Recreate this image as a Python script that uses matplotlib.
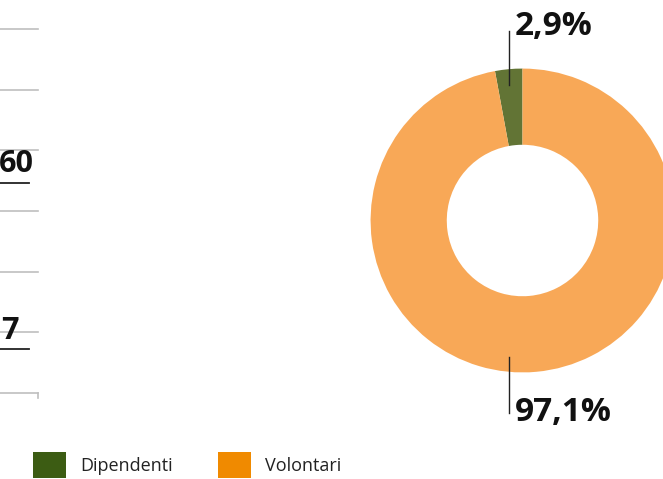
import matplotlib
matplotlib.use("Agg")
import matplotlib.pyplot as plt
from matplotlib.patches import Patch

# donut data
categories = ["Dipendenti", "Volontari"]
shares = [2.9, 97.1]
share_labels = ["2,9%", "97,1%"]
wedge_colors = ["#627435", "#f8a857"]
legend_colors = ["#3c5c13", "#f08a00"]

# left, partly visible panel
grid_levels = [0, 1, 2, 3, 4, 5, 6]
side_labels = ["60", "7"]
side_label_levels = [3.77, 1.03]

plt.rcParams["font.family"] = ["Open Sans", "DejaVu Sans"]

W, H = 663, 479
fig = plt.figure(figsize=(W / 100, H / 100), dpi=100)

# left panel with grid lines
axl = fig.add_axes([0 / W, (H - 393) / H, 38 / W, (393 - 29) / H])
axl.set_xlim(0, 1)
axl.set_ylim(0, 6)
for lv in grid_levels:
    axl.axhline(lv, color="#bfbfbf", lw=1.2, clip_on=False)
axl.plot([1, 1], [0, -0.08], color="#bfbfbf", lw=1.2, clip_on=False)
for lab, lv in zip(side_labels, side_label_levels):
    axl.text(0.04 if lab == "7" else -0.02, lv, lab, fontsize=22, fontweight="bold",
             ha="left", va="center", color="#111111")
    axl.plot([0, 0.76], [lv - 0.31, lv - 0.31], color="#222222", lw=1.3, clip_on=False)
axl.axis("off")

# donut
side = 311
ax = fig.add_axes([367 / W, (H - 376) / H, side / W, side / H])
ax.set_facecolor("#fafafa")
wedges, _ = ax.pie(shares, colors=wedge_colors, startangle=90, counterclock=True,
                   radius=0.977, wedgeprops=dict(width=0.49, edgecolor="none"))
ax.set_xlim(-1, 1)
ax.set_ylim(-1, 1)
ax.set_aspect("equal")
for s in ax.spines.values():
    s.set_visible(False)
ax.set_xticks([])
ax.set_yticks([])

# value labels with leader lines
lx = -0.09
ax.plot([lx, lx], [0.87, 1.22], color="#222222", lw=1, clip_on=False)
ax.text(lx + 0.04, 1.25, share_labels[0], fontsize=24, fontweight="bold",
        ha="left", va="center", color="#111111", clip_on=False)
ax.plot([lx, lx], [-0.88, -1.24], color="#222222", lw=1, clip_on=False)
ax.text(lx + 0.04, -1.235, share_labels[1], fontsize=24, fontweight="bold",
        ha="left", va="center", color="#111111", clip_on=False)

# legend
handles = [Patch(facecolor=c, edgecolor="none") for c in legend_colors]
fig.legend(handles, categories, loc="center left", bbox_to_anchor=(33 / W, 1 - 465 / H),
           ncol=2, frameon=False, fontsize=13, handlelength=1.83, handleheight=1.85,
           handletextpad=0.78, columnspacing=2.5, borderpad=0, borderaxespad=0,
           labelcolor="#222222")

fig.savefig("out.png", dpi=100)
